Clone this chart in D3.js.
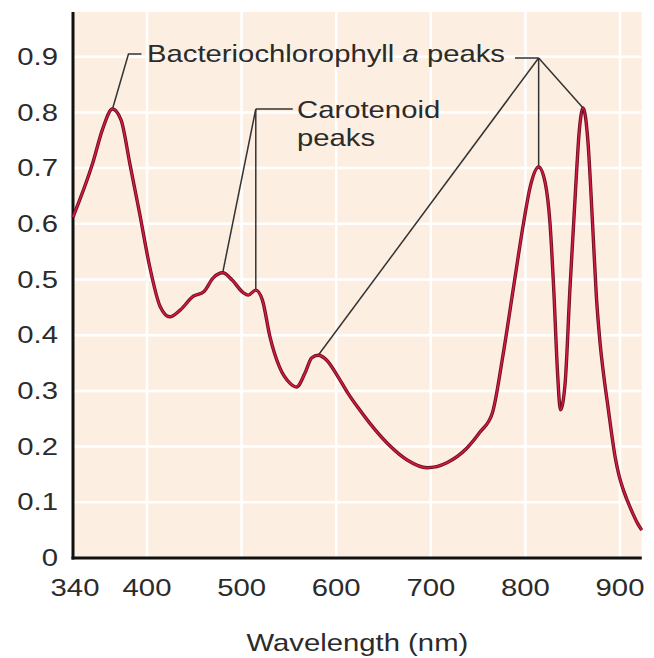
<!DOCTYPE html>
<html>
<head>
<meta charset="utf-8">
<script src="https://cdn.jsdelivr.net/npm/d3@7"></script>
<style>
  body { margin: 0; background: #fff; }
  svg { display: block; font-family: "Liberation Sans", Arial, sans-serif; }
</style>
</head>
<body>
<div id="chart"></div>
<script>
// absorption spectrum
var wavelength = [340, 356, 364, 372, 379, 386, 394, 403, 414, 424, 435, 449, 460, 470, 480, 490, 502, 507, 515, 522, 530, 540, 551, 558, 567, 574, 581, 590, 601, 612, 623, 635, 654, 675, 696, 717, 738, 752, 765, 776, 787, 798, 805, 814, 821, 826, 830, 834, 837, 842, 847, 853, 857, 861, 866, 871, 875, 879, 883, 887, 891, 895, 899, 903, 908, 913, 918, 923];
var absorbance = [0.612, 0.709, 0.77, 0.806, 0.786, 0.709, 0.619, 0.522, 0.451, 0.433, 0.445, 0.470, 0.478, 0.503, 0.512, 0.499, 0.476, 0.472, 0.481, 0.463, 0.397, 0.343, 0.314, 0.307, 0.332, 0.359, 0.364, 0.355, 0.328, 0.297, 0.27, 0.243, 0.206, 0.176, 0.162, 0.171, 0.197, 0.226, 0.260, 0.361, 0.481, 0.601, 0.666, 0.702, 0.673, 0.601, 0.481, 0.332, 0.266, 0.314, 0.481, 0.661, 0.768, 0.808, 0.750, 0.60, 0.47, 0.385, 0.325, 0.275, 0.225, 0.18, 0.148, 0.125, 0.102, 0.082, 0.064, 0.05];

var xTicks = [340, 400, 500, 600, 700, 800, 900];
var yTicks = [0, 0.1, 0.2, 0.3, 0.4, 0.5, 0.6, 0.7, 0.8, 0.9];

var bchlPeaks = [372, 581, 814, 861];
var caroPeaks = [480, 515];

var W = 654, H = 658;
var SX = 1.22; // the figure's lettering is stretched sideways

// the original axis is not to scale: 340-400 is squeezed
var x = d3.scaleLinear().domain([340, 400, 900]).range([73, 147, 620]);
var y = d3.scaleLinear().domain([0, 0.9]).range([558, 56.7]);
var xMax = 923, yMax = y.invert(12);

var svg = d3.select("#chart").append("svg")
    .attr("width", W)
    .attr("height", H);

function txt(g, s, px, py, anchor) {
  return g.append("text")
      .attr("transform", "translate(" + px + "," + py + ") scale(" + SX + ",1)")
      .attr("text-anchor", anchor || "start")
      .attr("font-size", 24)
      .attr("fill", "#2b2b2b")
      .text(s);
}

// plot background
svg.append("rect")
    .attr("x", x(340)).attr("y", y(yMax))
    .attr("width", x(xMax) - x(340))
    .attr("height", y(0) - y(yMax))
    .attr("fill", "#fcefe1");

// grid
svg.append("g").selectAll("line.h")
    .data(yTicks.slice(1))
    .enter().append("line")
    .attr("x1", x(340)).attr("x2", x(xMax))
    .attr("y1", function(d) { return y(d); })
    .attr("y2", function(d) { return y(d); })
    .attr("stroke", "#fff").attr("stroke-width", 2.5);

svg.append("g").selectAll("line.v")
    .data(xTicks.slice(1))
    .enter().append("line")
    .attr("y1", y(0)).attr("y2", y(yMax))
    .attr("x1", function(d) { return x(d); })
    .attr("x2", function(d) { return x(d); })
    .attr("stroke", "#fff").attr("stroke-width", 2.5);

// axes
var xAxis = d3.axisBottom(x).tickValues(xTicks).tickSize(0).tickPadding(0);
var yAxis = d3.axisLeft(y).tickValues(yTicks).tickSize(0).tickFormat(d3.format("~g"));

var gx = svg.append("g").attr("transform", "translate(0," + y(0) + ")").call(xAxis);
var gy = svg.append("g").attr("transform", "translate(" + x(340) + ",0)").call(yAxis);
[gx, gy].forEach(function(g) {
  g.select(".domain").remove();
  g.selectAll("text")
      .attr("font-size", 24)
      .attr("font-family", "Liberation Sans, Arial, sans-serif")
      .attr("fill", "#2b2b2b");
});
gx.selectAll(".tick text").attr("dy", null).attr("y", 38)
    .attr("transform", "scale(" + SX + ",1)")
    .attr("x", 0);
gx.selectAll(".tick").each(function(d) {
  d3.select(this).attr("transform", "translate(" + (x(d) + (d === 340 ? 2 : 0)) + ",0)");
});
gy.selectAll(".tick text").attr("x", 0).attr("dy", "0.32em")
    .attr("transform", "translate(-15,0) scale(" + SX + ",1)");

svg.append("line")
    .attr("x1", x(340)).attr("x2", x(340))
    .attr("y1", y(yMax)).attr("y2", y(0) + 1.5)
    .attr("stroke", "#111").attr("stroke-width", 3);
svg.append("line")
    .attr("x1", x(340) - 1.5).attr("x2", x(xMax))
    .attr("y1", y(0)).attr("y2", y(0))
    .attr("stroke", "#111").attr("stroke-width", 3);

txt(svg, "Wavelength (nm)", (x(340) + x(xMax)) / 2, 651, "middle");

// spectrum
var pts = wavelength.map(function(w, i) { return [w, absorbance[i]]; });
var line = d3.line()
    .x(function(d) { return x(d[0]); })
    .y(function(d) { return y(d[1]); })
    .curve(d3.curveMonotoneX);

function valAt(w) { return absorbance[wavelength.indexOf(w)]; }

// annotations
var ann = svg.append("g").attr("fill", "none").attr("stroke", "#333").attr("stroke-width", 1.5);

// left bacteriochlorophyll peak
var p0 = [x(bchlPeaks[0]), y(valAt(bchlPeaks[0]))];
ann.append("polyline")
    .attr("points", [[p0[0] + 29, 54], [p0[0] + 16, 54], p0].join(" "));

// right group of bacteriochlorophyll peaks
var apex = [x(814), 58];
ann.append("line").attr("x1", 515).attr("y1", apex[1]).attr("x2", apex[0]).attr("y2", apex[1]);
bchlPeaks.slice(1).forEach(function(w) {
  ann.append("line")
      .attr("x1", apex[0]).attr("y1", apex[1])
      .attr("x2", x(w)).attr("y2", y(valAt(w)));
});

// carotenoid peaks
var corner = [x(caroPeaks[1]), 109];
ann.append("line").attr("x1", corner[0]).attr("y1", corner[1]).attr("x2", corner[0] + 37).attr("y2", corner[1]);
caroPeaks.forEach(function(w) {
  ann.append("line")
      .attr("x1", corner[0]).attr("y1", corner[1])
      .attr("x2", x(w)).attr("y2", y(valAt(w)));
});

svg.append("path")
    .datum(pts)
    .attr("fill", "none")
    .attr("stroke", "#6b1020")
    .attr("stroke-width", 3.4)
    .attr("d", line);
svg.append("path")
    .datum(pts)
    .attr("fill", "none")
    .attr("stroke", "#d21a45")
    .attr("stroke-width", 1.6)
    .attr("d", line);

var t1 = txt(svg, "Bacteriochlorophyll ", 147, 62);
t1.append("tspan").attr("font-style", "italic").text("a");
t1.append("tspan").text(" peaks");
txt(svg, "Carotenoid", 297, 118);
txt(svg, "peaks", 297, 146);
</script>
</body>
</html>
